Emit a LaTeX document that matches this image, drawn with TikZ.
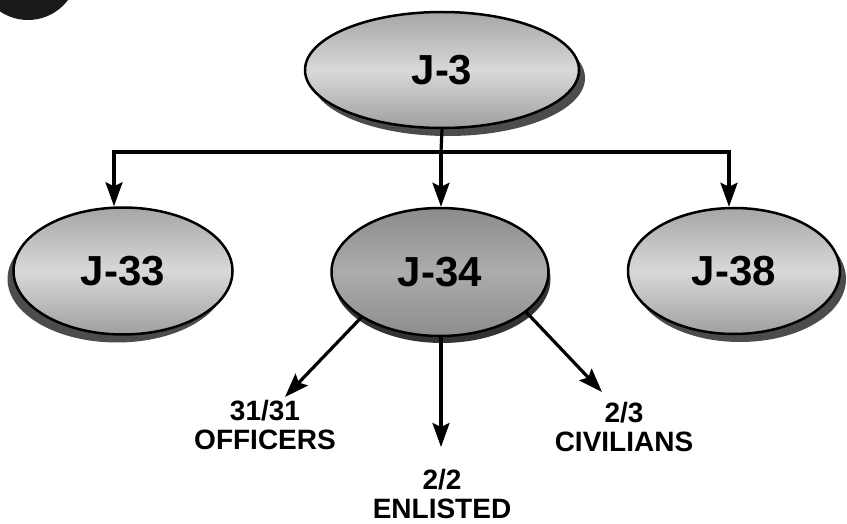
\documentclass[tikz,border=0pt]{standalone}
\usepackage{fontspec}
\setmainfont{Liberation Sans}
\usetikzlibrary{arrows.meta,shapes.geometric,shadows}

\begin{document}
\begin{tikzpicture}[x=1pt,y=-1pt,
	office/.style={ellipse,draw=black,line width=2.5pt,inner sep=0pt,
		top color=gray!70,bottom color=gray!75,middle color=gray!30,
		font=\fontsize{42}{45}\selectfont\bfseries},
	arr/.style={line width=3.2pt,-{Stealth[length=24pt,width=17pt,inset=4pt]}},
	count/.style={align=center,font=\fontsize{28}{29}\selectfont\bfseries}]
	
	\useasboundingbox (0,0) rectangle (847,524);
	
	\begin{scope}
		\clip (0,0) rectangle (847,524);
		\fill[black!90] (28,-30) circle (50pt);
	\end{scope}
	
	\node[office,minimum width=274pt,minimum height=116pt,
		general shadow={fill=black!70,shadow xshift=6pt,shadow yshift=-8pt}] (j3) at (442,70) {J-3};
	\node[office,minimum width=219pt,minimum height=127pt,
		general shadow={fill=black!70,shadow xshift=-6pt,shadow yshift=-8pt}] (j33) at (123,271) {J-33};
	\node[office,minimum width=217pt,minimum height=128pt,
		top color=gray!90,bottom color=gray!90,middle color=gray!65,
		general shadow={fill=black!80,shadow xshift=2pt,shadow yshift=-7pt}] (j34) at (440,272) {J-34};
	\node[office,minimum width=212pt,minimum height=126pt,
		general shadow={fill=black!70,shadow xshift=6pt,shadow yshift=-8pt}] (j38) at (734,271) {J-38};
	
	\coordinate (fork) at (441,152);
	\draw[line width=3.2pt] (j3.south) -- (fork);
	\draw[arr] (fork) -| ([xshift=-9pt]j33.north);
	\draw[arr] (fork) -- (fork |- j34.north);
	\draw[arr] (fork) -| ([xshift=-5pt]j38.north);
	
	\node[count] (off) at (265,425) {31/31\\OFFICERS};
	\node[count] (enl) at (442,494) {2/2\\ENLISTED};
	\node[count] (civ) at (624,427) {2/3\\CIVILIANS};
	
	\coordinate (offtip) at (285,397);
	\coordinate (enltip) at (441,447);
	\coordinate (civtip) at (602,392);
	\draw[arr] (j34.210) -- (offtip);
	\draw[arr] (j34.south -| enltip) -- (enltip);
	\draw[arr] (j34.335) -- (civtip);
	
\end{tikzpicture}
\end{document}
